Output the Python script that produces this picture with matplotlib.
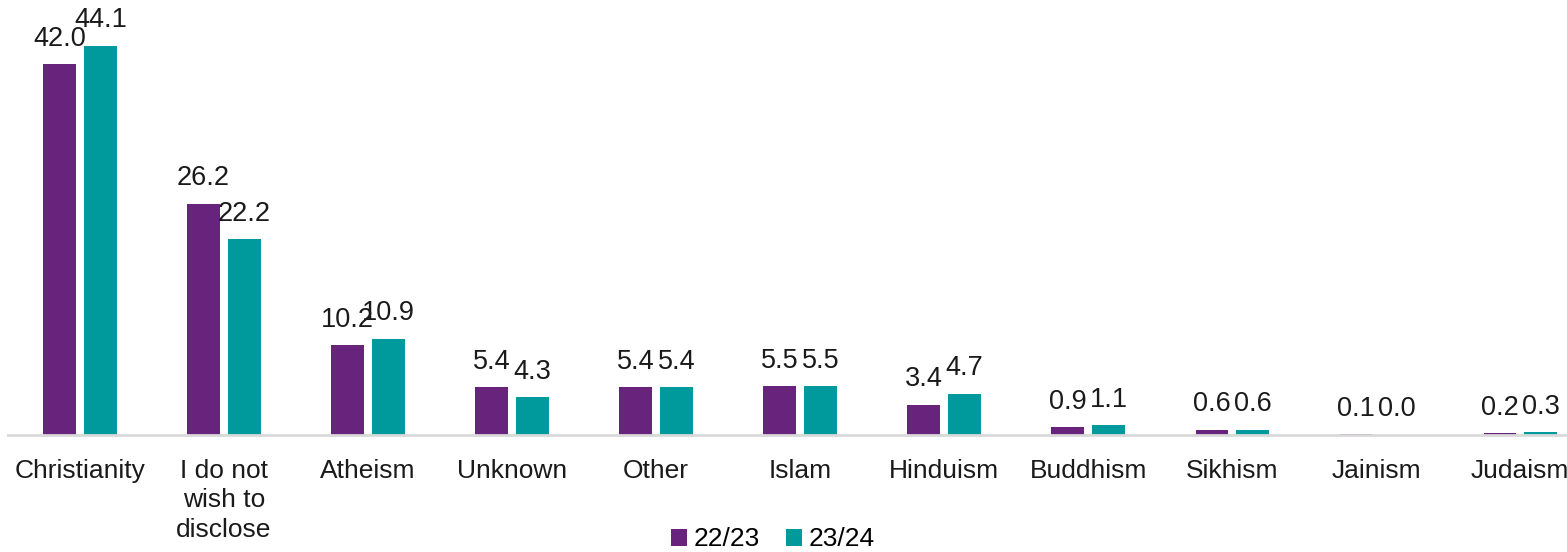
import numpy as np
import matplotlib.pyplot as plt

plt.rcParams['font.family'] = ['Liberation Sans', 'DejaVu Sans']

categories = ['Christianity', 'I do not\nwish to\ndisclose', 'Atheism', 'Unknown', 'Other',
              'Islam', 'Hinduism', 'Buddhism', 'Sikhism', 'Jainism', 'Judaism']
y2223 = [42.0, 26.2, 10.2, 5.4, 5.4, 5.5, 3.4, 0.9, 0.6, 0.1, 0.2]
y2324 = [44.1, 22.2, 10.9, 4.3, 5.4, 5.5, 4.7, 1.1, 0.6, 0.0, 0.3]
series = ['22/23', '23/24']
colors = ['#68237D', '#00999C']

fig = plt.figure(figsize=(15.67, 5.52), dpi=100)
ax = fig.add_axes([0.0051, 0.212, 1.011, 0.799])

x = np.arange(len(categories))
w = 0.225
off = 0.142
b1 = ax.bar(x - off, y2223, w, color=colors[0], label=series[0])
b2 = ax.bar(x + off, y2324, w, color=colors[1], label=series[1])

# value labels sit just above each bar
for bars, vals in ((b1, y2223), (b2, y2324)):
    for b, v in zip(bars, vals):
        ax.annotate(f'{v:.1f}', (b.get_x() + b.get_width() / 2, v),
                    xytext=(0, 9), textcoords='offset points',
                    ha='center', va='bottom', fontsize=19.5, color='#1a1a1a')

ax.set_xlim(-0.5, len(categories) - 0.5)
ax.set_ylim(0, 50)
for s in ['top', 'right', 'left']:
    ax.spines[s].set_visible(False)
ax.spines['bottom'].set_color('#D9D9D9')
ax.spines['bottom'].set_linewidth(2)
ax.set_yticks([])
ax.set_xticks(x)
ax.set_xticklabels(categories, fontsize=19, color='#1a1a1a', linespacing=1.3, va='top')
ax.tick_params(axis='x', length=0, pad=17)

fig.legend(loc='lower center', bbox_to_anchor=(0.493, -0.042), ncol=2, frameon=False,
           fontsize=19, handlelength=0.6, handleheight=0.6, handletextpad=0.25,
           columnspacing=1.0)

fig.savefig('out.png', dpi=100)
